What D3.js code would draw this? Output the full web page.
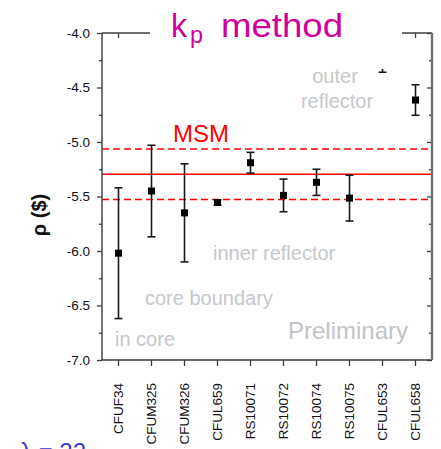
<!DOCTYPE html>
<html>
<head>
<meta charset="utf-8">
<script src="https://cdn.jsdelivr.net/npm/d3@7"></script>
<style>
  html, body { margin: 0; padding: 0; background: #fff; }
  svg { display: block; }
  text { font-family: "Liberation Sans", Arial, sans-serif; }
</style>
</head>
<body>
<svg id="chart"></svg>
<script>
// samples along the x axis
const samples = ["CFUF34", "CFUM325", "CFUM326", "CFUL659", "RS10071",
                 "RS10072", "RS10074", "RS10075", "CFUL653", "CFUL658"]
// reactivity rho in $ and its 1-sigma error
const rho = [-6.02, -5.45, -5.65, -5.555, -5.19, -5.49, -5.37, -5.515, -4.20, -4.615]
const rhoErr = [0.60, 0.42, 0.45, 0.025, 0.095, 0.15, 0.12, 0.21, 0.16, 0.14]
// MSM reference value and band
const msm = -5.296
const msmErr = 0.232
const yTicks = [-7.0, -6.5, -6.0, -5.5, -5.0, -4.5, -4.0]
const yMinorTicks = [-6.75, -6.25, -5.75, -5.25, -4.75, -4.25]

const width = 441
const height = 449
const margin = {top: 33, right: 9, bottom: 89, left: 102}

const svg = d3.select("#chart")
  .attr("width", width)
  .attr("height", height)

const x = d3.scaleBand()
  .domain(samples)
  .range([margin.left, width - margin.right])

const y = d3.scaleLinear()
  .domain([-7, -4])
  .range([height - margin.bottom, margin.top])

const xc = (d) => x(d) + x.bandwidth() / 2
const fmt = (d) => d.toFixed(1)
const frameColor = "#3c3c3c"

// MSM lines
const msmLines = [
  {v: msm, dash: null},
  {v: msm + msmErr, dash: "7,4"},
  {v: msm - msmErr, dash: "7,4"}
]
svg.append("g")
  .selectAll("line")
  .data(msmLines)
  .enter().append("line")
  .attr("x1", margin.left)
  .attr("x2", width - margin.right)
  .attr("y1", d => y(d.v))
  .attr("y2", d => y(d.v))
  .attr("stroke", "#ff0000")
  .attr("stroke-width", 1.4)
  .attr("stroke-dasharray", d => d.dash)

// left axis, major + minor ticks outward
const leftAxis = svg.append("g")
  .attr("transform", `translate(${margin.left},0)`)
  .call(d3.axisLeft(y).tickValues(yTicks).tickSize(5).tickPadding(7).tickFormat(fmt))
leftAxis.append("g")
  .call(d3.axisLeft(y).tickValues(yMinorTicks).tickSize(3).tickFormat(""))

// right axis, ticks inward
const rightAxis = svg.append("g")
  .attr("transform", `translate(${width - margin.right},0)`)
  .call(d3.axisLeft(y).tickValues(yTicks).tickSize(5).tickFormat(""))
rightAxis.append("g")
  .call(d3.axisLeft(y).tickValues(yMinorTicks).tickSize(3).tickFormat(""))

// bottom axis, ticks outward
const bottomAxis = svg.append("g")
  .attr("transform", `translate(0,${height - margin.bottom})`)
  .call(d3.axisBottom(x).tickSize(6).tickFormat(""))

// top axis, ticks inward
const topAxis = svg.append("g")
  .attr("transform", `translate(0,${margin.top})`)
  .call(d3.axisBottom(x).tickSize(5).tickFormat(""))

svg.selectAll(".domain").remove()
svg.selectAll(".tick line").attr("stroke", frameColor).attr("stroke-width", 1.3)
leftAxis.selectAll("text")
  .attr("font-size", "13.5px")
  .attr("font-family", "Liberation Sans, Arial, sans-serif")
  .attr("fill", "#111")

// frame
svg.append("path")
  .attr("d", `M${margin.left},${margin.top}V${height - margin.bottom}H${width - margin.right}`)
  .attr("fill", "none")
  .attr("stroke", frameColor)
  .attr("stroke-width", 1.4)
svg.append("line")
  .attr("x1", margin.left).attr("x2", width - margin.right)
  .attr("y1", margin.top).attr("y2", margin.top)
  .attr("stroke", frameColor)
  .attr("stroke-width", 1.4)
svg.append("line")
  .attr("x1", width - margin.right).attr("x2", width - margin.right)
  .attr("y1", margin.top).attr("y2", height - margin.bottom)
  .attr("stroke", "#707070")
  .attr("stroke-width", 2.4)

// sample labels, rotated
svg.append("g")
  .selectAll("text")
  .data(samples)
  .enter().append("text")
  .attr("transform", d => `translate(${xc(d)},${height - margin.bottom + 23}) rotate(-90)`)
  .attr("text-anchor", "end")
  .attr("dy", "0.36em")
  .attr("font-size", "13.5px")
  .attr("fill", "#111")
  .text(d => d)

// error bars
const pts = samples.map((s, i) => ({s: s, v: rho[i], e: rhoErr[i]}))
const eb = svg.append("g").attr("stroke", "#1a1a1a").attr("stroke-width", 1.6)
eb.selectAll(".stem")
  .data(pts)
  .enter().append("line")
  .attr("x1", d => xc(d.s)).attr("x2", d => xc(d.s))
  .attr("y1", d => y(d.v + d.e)).attr("y2", d => y(d.v - d.e))
eb.selectAll(".capTop")
  .data(pts)
  .enter().append("line")
  .attr("x1", d => xc(d.s) - 4).attr("x2", d => xc(d.s) + 4)
  .attr("y1", d => y(d.v + d.e)).attr("y2", d => y(d.v + d.e))
eb.selectAll(".capBot")
  .data(pts)
  .enter().append("line")
  .attr("x1", d => xc(d.s) - 4).attr("x2", d => xc(d.s) + 4)
  .attr("y1", d => y(d.v - d.e)).attr("y2", d => y(d.v - d.e))

svg.append("g")
  .selectAll("rect")
  .data(pts)
  .enter().append("rect")
  .attr("x", d => xc(d.s) - 3.5)
  .attr("y", d => y(d.v) - 3.5)
  .attr("width", 7)
  .attr("height", 7)
  .attr("fill", "#000")

// region notes
const grey = "#c6c8cc"
const notes = [
  {t: "outer", x: 335, y: 83, size: 20, anchor: "middle", c: grey},
  {t: "reflector", x: 337, y: 107.5, size: 20, anchor: "middle", c: grey},
  {t: "inner reflector", x: 213, y: 259.5, size: 20, anchor: "start", c: grey},
  {t: "core boundary", x: 145, y: 305, size: 20, anchor: "start", c: grey},
  {t: "in core", x: 115, y: 345.5, size: 20, anchor: "start", c: grey},
  {t: "Preliminary", x: 288, y: 339, size: 24, anchor: "start", c: "#c2c4c8"},
  {t: "MSM", x: 173, y: 142, size: 24, anchor: "start", c: "#ff0000"}
]
svg.append("g")
  .selectAll("text")
  .data(notes)
  .enter().append("text")
  .attr("x", d => d.x)
  .attr("y", d => d.y)
  .attr("font-size", d => d.size + "px")
  .attr("text-anchor", d => d.anchor)
  .attr("fill", d => d.c)
  .text(d => d.t)

// axis title
svg.append("text")
  .attr("transform", "translate(46,215) rotate(-90)")
  .attr("text-anchor", "middle")
  .attr("font-size", "20px")
  .attr("font-weight", "bold")
  .attr("fill", "#111")
  .text("ρ ($)")

// slide title box
svg.append("rect")
  .attr("x", 150).attr("y", 0)
  .attr("width", 252).attr("height", 69)
  .attr("fill", "#fff")
const titleFont = "'Comic Sans MS', 'DejaVu Sans', sans-serif"
const magenta = "#d0009a"
svg.append("text")
  .attr("x", 171).attr("y", 37)
  .attr("font-family", titleFont)
  .attr("font-size", "34px")
  .attr("textLength", 16)
  .attr("lengthAdjust", "spacingAndGlyphs")
  .attr("fill", magenta)
  .text("k")
svg.append("text")
  .attr("x", 190).attr("y", 43)
  .attr("font-family", titleFont)
  .attr("font-size", "24px")
  .attr("textLength", 13)
  .attr("lengthAdjust", "spacingAndGlyphs")
  .attr("fill", magenta)
  .text("p")
svg.append("text")
  .attr("x", 221).attr("y", 37)
  .attr("font-family", titleFont)
  .attr("font-size", "34px")
  .attr("textLength", 122)
  .attr("lengthAdjust", "spacingAndGlyphs")
  .attr("fill", magenta)
  .text("method")

// cut-off slide text at the bottom
svg.append("text")
  .attr("x", 20).attr("y", 460)
  .attr("font-family", titleFont)
  .attr("font-size", "24px")
  .attr("fill", "#3a3ad0")
  .text("λ = 22")
</script>
</body>
</html>
